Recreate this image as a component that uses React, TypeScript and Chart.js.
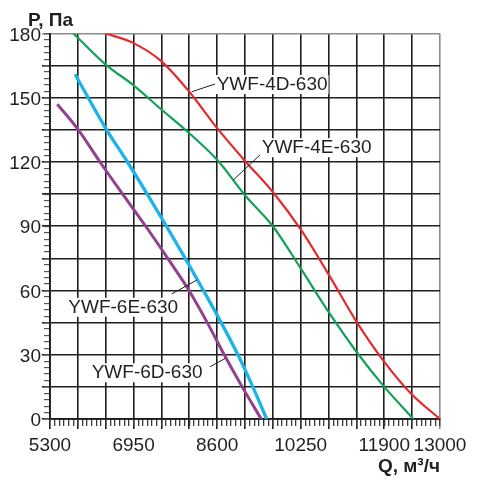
import { useEffect, useRef } from 'react'
import Chart from 'chart.js/auto'

// flow Q, m3/h and pressure P, Pa
const q4D = [6400, 6950, 7500, 8050, 8600, 9150, 9700, 10250, 10800, 11350, 11900, 12450, 13000]
const p4D = [180, 175.5, 167, 152.8, 135.8, 120.5, 106, 88.5, 67.5, 45.5, 26.7, 11.3, 0]

const q4E = [5762, 5850, 6400, 6950, 7500, 8050, 8600, 9150, 9700, 10250, 10800, 11350, 11900, 12475]
const p4E = [180, 178, 165.5, 155.8, 144.5, 133.4, 121, 104.5, 90, 70.3, 50, 31.4, 15, 0]

const q6E = [5795, 6418, 6830, 7220, 7600, 7970, 8330, 8680, 9010, 9305, 9577]
const p6E = [161, 135, 120, 105, 90, 75, 60, 45, 30, 15, 0]

const q6D = [5444, 5860, 6287, 6735, 7190, 7625, 8045, 8405, 8740, 9095, 9470]
const p6D = [147, 135, 120, 105, 90, 75, 60, 45, 30, 15, 0]

const xLabels = [5300, 6950, 8600, 10250, 11900, 13000]
const yLabels = [0, 30, 60, 90, 120, 150, 180]

const FONT = '"Liberation Sans", Arial, sans-serif'
const INK = '#231f20'

// curve captions: text position (left, baseline) and leader line, in data units
const captions = [
  { text: 'YWF-4D-630', at: [8591, 153.6], from: [8098, 152.8], to: [8558, 156.4] },
  { text: 'YWF-4E-630', at: [9480, 124.1], from: [8919, 111.6], to: [9446, 123.3] },
  { text: 'YWF-6E-630', at: [5661, 49.6], from: [8200, 64.9], to: [7703, 58.4] },
  { text: 'YWF-6D-630', at: [6123, 19.0], from: [8760, 28.3], to: [8459, 24.4] },
]

const toPoints = (q: number[], p: number[]) => q.map((x, i) => ({ x, y: p[i] }))

const captionPlugin = {
  id: 'captions',
  afterDatasetsDraw(chart: any) {
    const { ctx, scales, chartArea } = chart
    const sx = scales.x
    const sy = scales.y
    ctx.save()
    ctx.font = '19px ' + FONT
    ctx.textBaseline = 'alphabetic'
    ctx.textAlign = 'left'
    captions.forEach((c) => {
      const x = sx.getPixelForValue(c.at[0])
      const y = sy.getPixelForValue(c.at[1])
      const w = ctx.measureText(c.text).width
      ctx.fillStyle = '#fff'
      ctx.fillRect(x - 1, y - 15, w + 2, 19)
      ctx.fillStyle = INK
      ctx.fillText(c.text, x, y)
      ctx.beginPath()
      ctx.strokeStyle = '#231f20'
      ctx.lineWidth = 1
      ctx.moveTo(sx.getPixelForValue(c.from[0]), sy.getPixelForValue(c.from[1]))
      ctx.lineTo(sx.getPixelForValue(c.to[0]), sy.getPixelForValue(c.to[1]))
      ctx.stroke()
    })
    // axis titles
    ctx.font = 'bold 19px ' + FONT
    ctx.fillStyle = INK
    ctx.textAlign = 'left'
    ctx.fillText('P, Па', chartArea.left - 22, chartArea.top - 8)
    ctx.textAlign = 'right'
    ctx.fillText('Q, м³/ч', chartArea.right, chartArea.bottom + 53)
    ctx.restore()
  },
}

const App = () => {
  const canvas = useRef<HTMLCanvasElement>(null)

  useEffect(() => {
    document.body.style.margin = '0'
    const tickFont = { family: FONT, size: 19 }
    const chart = new Chart(canvas.current as HTMLCanvasElement, {
      type: 'line',
      data: {
        datasets: [
          { label: 'YWF-6D-630', data: toPoints(q6D, p6D), borderColor: '#93418f', borderWidth: 3 },
          { label: 'YWF-6E-630', data: toPoints(q6E, p6E), borderColor: '#1cb3e8', borderWidth: 3.3 },
          { label: 'YWF-4E-630', data: toPoints(q4E, p4E), borderColor: '#12a158', borderWidth: 2.2 },
          { label: 'YWF-4D-630', data: toPoints(q4D, p4D), borderColor: '#e52a2f', borderWidth: 2.2 },
        ].map((d) => ({ ...d, pointRadius: 0, fill: false, cubicInterpolationMode: 'monotone' as const })),
      },
      options: {
        responsive: false,
        animation: false,
        layout: { padding: { top: 33.5, right: 38, left: 0, bottom: 0 } },
        plugins: { legend: { display: false }, tooltip: { enabled: false } },
        scales: {
          x: {
            type: 'linear',
            position: 'bottom',
            min: 5300,
            max: 13000,
            weight: 1,
            afterFit: (s: any) => { s.height = 64 },
            ticks: {
              stepSize: 550,
              autoSkip: false,
              maxRotation: 0,
              padding: 5,
              font: tickFont,
              color: INK,
              callback: (v: any) => (xLabels.includes(v) ? String(v) : ''),
            },
            grid: {
              color: (c: any) => (c.tick && c.tick.value === 13000 ? '#8c8c8c' : '#1e1e1e'),
              lineWidth: 1.6,
              tickLength: 10,
            },
            border: { color: '#1a1a1a', width: 1.8 },
          },
          x2: {
            type: 'linear',
            position: 'bottom',
            min: 5300,
            max: 13000,
            weight: 0,
            afterFit: (s: any) => { s.height = 0 },
            ticks: { display: false, stepSize: 550 / 6, autoSkip: false },
            grid: { drawOnChartArea: false, tickLength: 7, lineWidth: 1.3, color: '#3a3a3a' },
            border: { display: false },
          },
          y: {
            type: 'linear',
            position: 'left',
            min: 0,
            max: 180,
            weight: 1,
            afterFit: (s: any) => { s.width = 50 },
            ticks: {
              stepSize: 15,
              autoSkip: false,
              padding: 1,
              labelOffset: 2,
              font: tickFont,
              color: INK,
              callback: (v: any) => (yLabels.includes(v) ? String(v) : ''),
            },
            grid: {
              color: (c: any) => (c.tick && c.tick.value === 180 ? '#8c8c8c' : '#1e1e1e'),
              lineWidth: 1.6,
              tickLength: 8,
            },
            border: { color: '#1a1a1a', width: 1.8 },
          },
          y2: {
            type: 'linear',
            position: 'left',
            min: 0,
            max: 180,
            weight: 0,
            afterFit: (s: any) => { s.width = 0 },
            ticks: { display: false, stepSize: 3, autoSkip: false },
            grid: { drawOnChartArea: false, tickLength: 6, lineWidth: 1.2, color: '#555' },
            border: { display: false },
          },
        },
      },
      plugins: [captionPlugin],
    })
    return () => chart.destroy()
  }, [])

  return (
    <div style={{ width: 478, height: 483, background: '#fff' }}>
      <canvas ref={canvas} width={478} height={483} style={{ display: 'block' }}></canvas>
    </div>
  )
}

export default App
